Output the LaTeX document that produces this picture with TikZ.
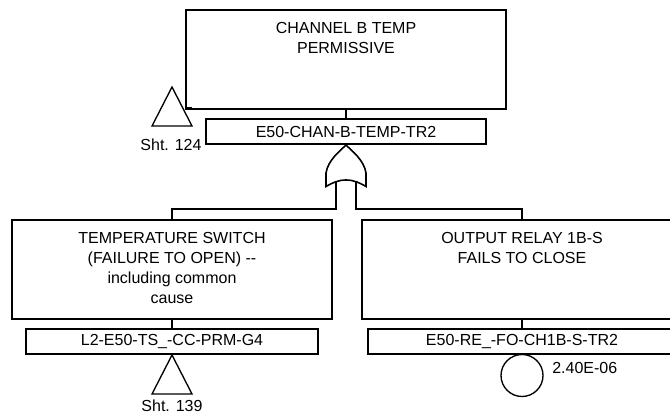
\documentclass[tikz,border=0pt]{standalone}
\usepackage{fontspec}
\setmainfont{Liberation Sans}
\usetikzlibrary{calc}
\tikzset{
  x=0.75pt,y=-0.75pt,
  ln/.style={line width=1.2pt,draw=black,line join=miter},
  bigbox/.style={ln,rectangle,minimum width=240pt,minimum height=74.25pt,inner sep=0pt,anchor=north},
  idbox/.style={ln,rectangle,minimum height=18.75pt,inner sep=0pt,font=\fontsize{12}{14}\selectfont},
  desc/.style={anchor=north,align=center,inner sep=0pt,font=\fontsize{12}{15}\selectfont},
  small/.style={inner sep=0pt,font=\fontsize{12}{14}\selectfont},
  tri/.style={ln,line width=1pt,line join=miter},
}
\begin{document}
\begin{tikzpicture}
\useasboundingbox (0,0) rectangle (670,420);
\clip (0,0) rectangle (670,420);
% top
\node[bigbox] (top) at (346,9) {};
\node[desc] (toptxt) at (346,22) {CHANNEL B TEMP\\PERMISSIVE};
\node[idbox,minimum width=210pt] (topid) at (346,131.5) {E50-CHAN-B-TEMP-TR2};
\draw[ln] (top.south) -- (topid.north);
% left
\node[bigbox] (left) at (172,219) {};
\node[desc] (lefttxt) at (172,232) {TEMPERATURE SWITCH\\(FAILURE TO OPEN) -{}-\\including common\\cause};
\node[idbox,minimum width=219pt] (leftid) at (172,341.5) {L2-E50-TS\_-CC-PRM-G4};
\draw[ln] (left.south) -- (leftid.north);
% right
\node[bigbox] (right) at (522,219) {};
\node[desc] (righttxt) at (522,232) {OUTPUT RELAY 1B-S\\FAILS TO CLOSE};
\node[idbox,minimum width=231pt] (rightid) at (522,341.5) {E50-RE\_-FO-CH1B-S-TR2};
\draw[ln] (right.south) -- (rightid.north);
% OR gate
\coordinate (gA) at (346,145);
\coordinate (gL) at (336,181);
\coordinate (gR) at (356,181);
\coordinate (busL) at (336,209);
\coordinate (busR) at (356,209);
\draw[ln] (gA) .. controls (340,151) and (328,160) .. (326,173)
  -- (326,186.5) .. controls (332,183) and (338,180) .. (346,180)
  .. controls (354,180) and (360,183) .. (366,186.5)
  -- (366,173) .. controls (364,160) and (352,151) .. (gA) -- cycle;
\draw[ln] (gL) -- (busL) -| (left.north);
\draw[ln] (gR) -- (busR) -| (right.north);
% transfer triangles
\node[small] (sht124) at (171,145) {Sht. 124};
\node[small] (sht139) at (172,406) {Sht. 139};
\draw[tri] (172,87) -- (152,126) -- (192,126) -- cycle;
\draw[ln] (186,107.5) -- (192,107.5);
\draw[tri] (172,355) -- (152,394) -- (192,394) -- cycle;
% basic event
\node[ln,circle,minimum size=31.5pt,inner sep=0pt,line width=1pt] (ev) at (522,375.5) {};
\node[small,anchor=west] (prob) at (552,368) {2.40E-06};
\end{tikzpicture}
\end{document}
